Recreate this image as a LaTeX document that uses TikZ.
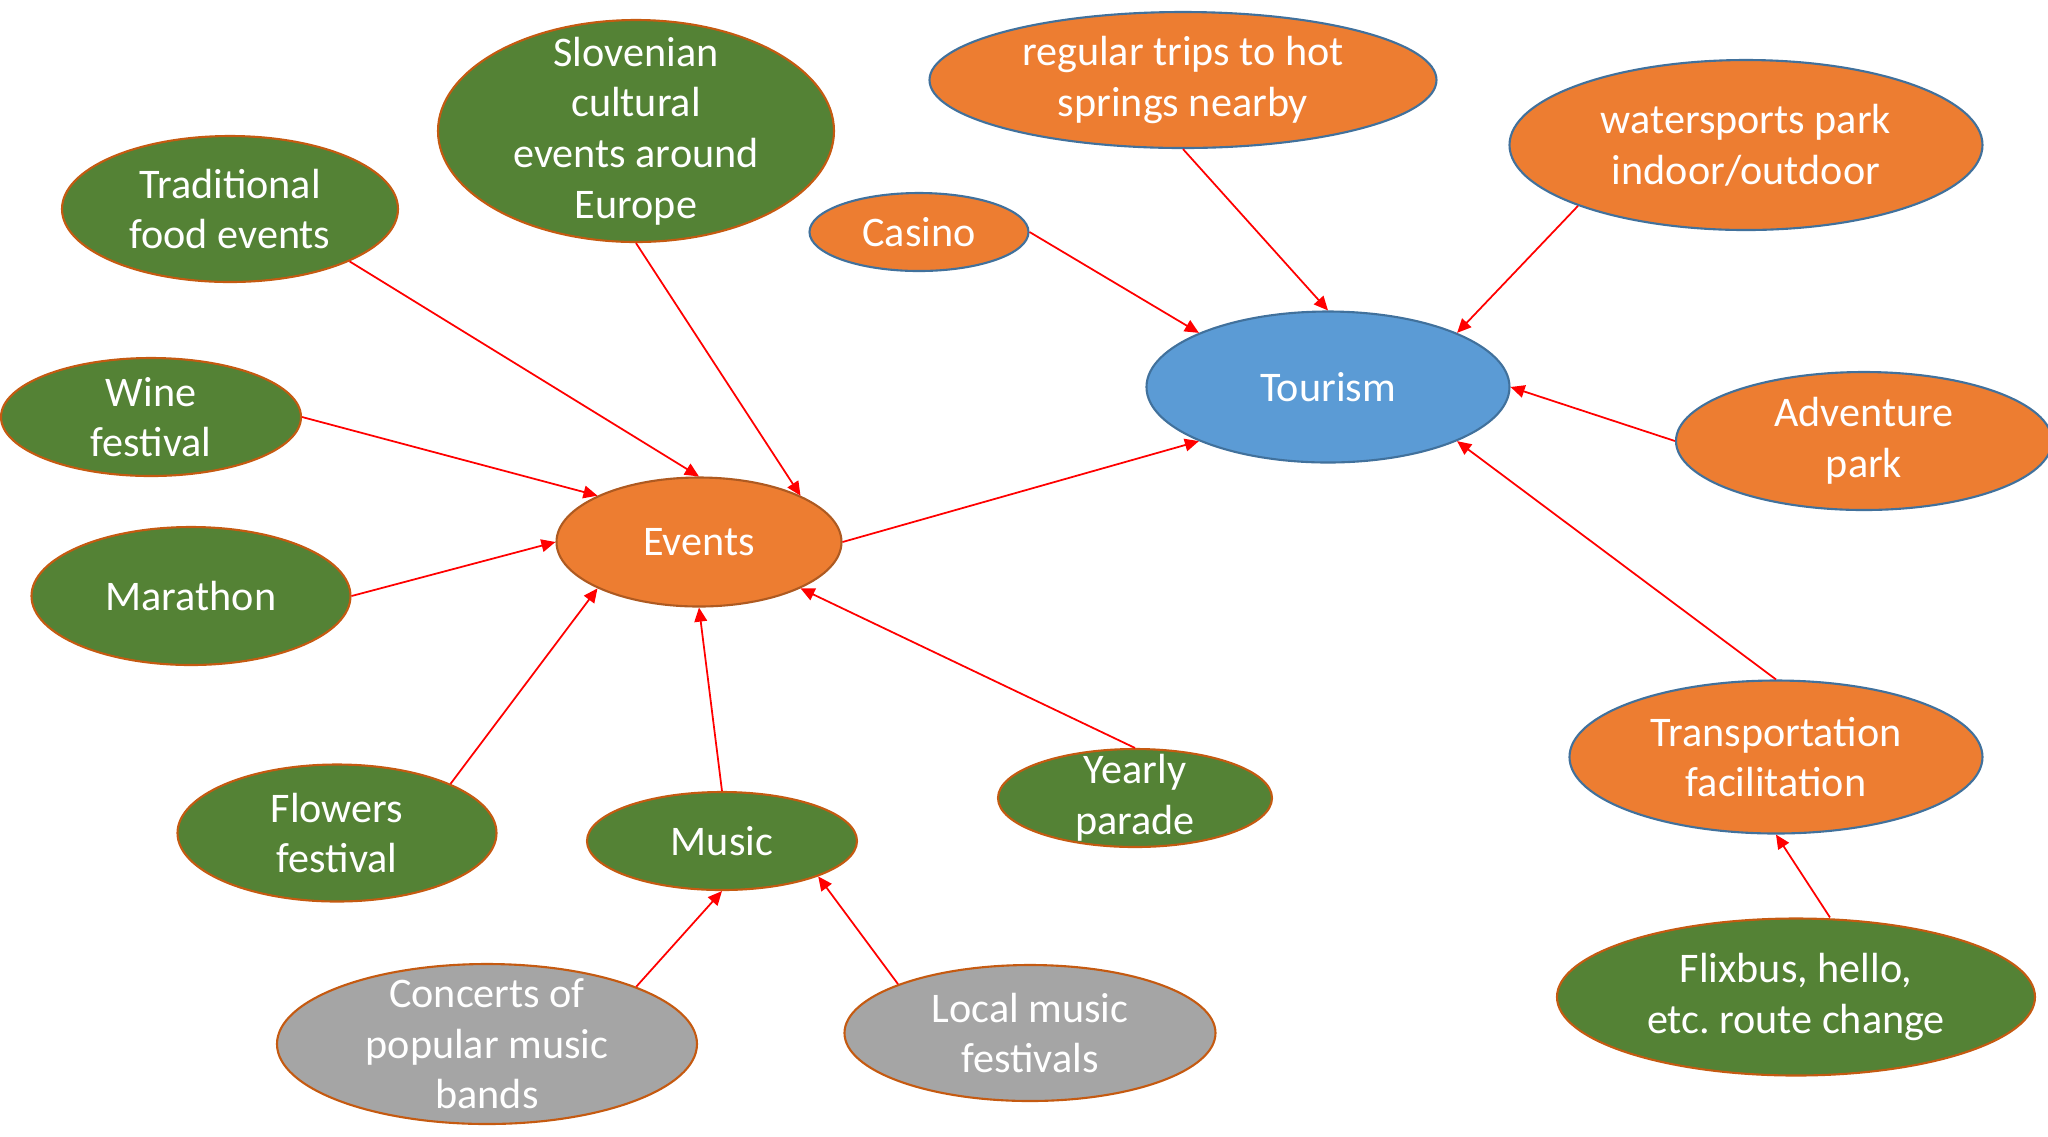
\documentclass[tikz,border=0pt]{standalone}
\usepackage{fontspec}
\setmainfont{Carlito}
\usetikzlibrary{shapes.geometric,arrows.meta}
\definecolor{offgreen}{HTML}{548235}
\definecolor{offorange}{HTML}{ED7D31}
\definecolor{offblue}{HTML}{5B9BD5}
\definecolor{offgray}{HTML}{A5A5A5}
\definecolor{rimblue}{HTML}{41719C}
\definecolor{rimbrown}{HTML}{C55A11}
\definecolor{rimdark}{HTML}{AE5A21}
\begin{document}
\begin{tikzpicture}[
 blob/.style={ellipse,inner sep=-3cm,line width=0.6pt,text=white,align=center,
  font=\fontsize{12}{14.4}\selectfont},
 topic/.style={blob,fill=offgreen,draw=rimbrown},
 idea/.style={blob,fill=offorange,draw=rimblue},
 hub/.style={blob,fill=offorange,draw=rimdark},
 band/.style={blob,fill=offgray,draw=rimbrown},
 link/.style={red,line width=0.5pt,-{Triangle[length=4pt,width=3.6pt]}}]
\useasboundingbox (0,0) rectangle (20.48,-11.36);
\node[blob,fill=offblue,draw=rimblue,minimum width=3.63cm,minimum height=1.51cm] (tour) at (13.28,-3.87) {Tourism};
\node[hub,minimum width=2.85cm,minimum height=1.29cm] (events) at (6.99,-5.42) {Events};
\node[topic,minimum width=3.36cm,minimum height=1.46cm] (food) at (2.30,-2.09) {Traditional\\food events};
\node[topic,minimum width=3.96cm,minimum height=2.22cm] (slov) at (6.36,-1.31) {Slovenian\\cultural\\events around\\Europe};
\node[idea,minimum width=2.19cm,minimum height=0.78cm] (casino) at (9.19,-2.32) {Casino};
\node[idea,minimum width=5.07cm,minimum height=1.36cm] (trips) at (11.83,-0.80) {regular trips to hot\\springs nearby};
\node[idea,minimum width=4.73cm,minimum height=1.70cm] (water) at (17.46,-1.45) {watersports park\\indoor/outdoor};
\node[idea,minimum width=3.76cm,minimum height=1.38cm] (adv) at (18.64,-4.41) {Adventure\\park};
\node[topic,minimum width=3.00cm,minimum height=1.18cm] (wine) at (1.51,-4.17) {Wine\\festival};
\node[topic,minimum width=3.19cm,minimum height=1.38cm] (mara) at (1.91,-5.96) {Marathon};
\node[topic,minimum width=3.19cm,minimum height=1.37cm] (flower) at (3.37,-8.33) {Flowers\\festival};
\node[topic,minimum width=2.70cm,minimum height=0.98cm] (music) at (7.22,-8.41) {Music};
\node[topic,minimum width=2.74cm,minimum height=0.98cm] (parade) at (11.35,-7.98) {Yearly\\parade};
\node[band,minimum width=4.20cm,minimum height=1.60cm] (concert) at (4.87,-10.44) {Concerts of\\popular music\\bands};
\node[band,minimum width=3.71cm,minimum height=1.36cm] (local) at (10.30,-10.33) {Local music\\festivals};
\node[idea,minimum width=4.13cm,minimum height=1.53cm] (trans) at (17.76,-7.57) {Transportation\\facilitation};
\node[topic,minimum width=4.78cm,minimum height=1.57cm] (flix) at (17.96,-9.97) {Flixbus, hello,\\etc.\ route change};
\draw[link] (food.south east) -- (events.north);
\draw[link] (slov.south) -- (events.north east);
\draw[link] (wine.east) -- (events.north west);
\draw[link] (mara.east) -- (events.west);
\draw[link] (flower.north east) -- (events.south west);
\draw[link] (music.north) -- (events.south);
\draw[link] (parade.north) -- (events.south east);
\draw[link] (events.east) -- (tour.south west);
\draw[link] (casino.east) -- (tour.north west);
\draw[link] (trips.south) -- (tour.north);
\draw[link] (water.south west) -- (tour.north east);
\draw[link] (adv.west) -- (tour.east);
\draw[link] (trans.north) -- (tour.south east);
\draw[link] (concert.north east) -- (music.south);
\draw[link] (local.north west) -- (music.south east);
\draw[link] ([xshift=0.34cm]flix.north) -- (trans.south);
\end{tikzpicture}
\end{document}
